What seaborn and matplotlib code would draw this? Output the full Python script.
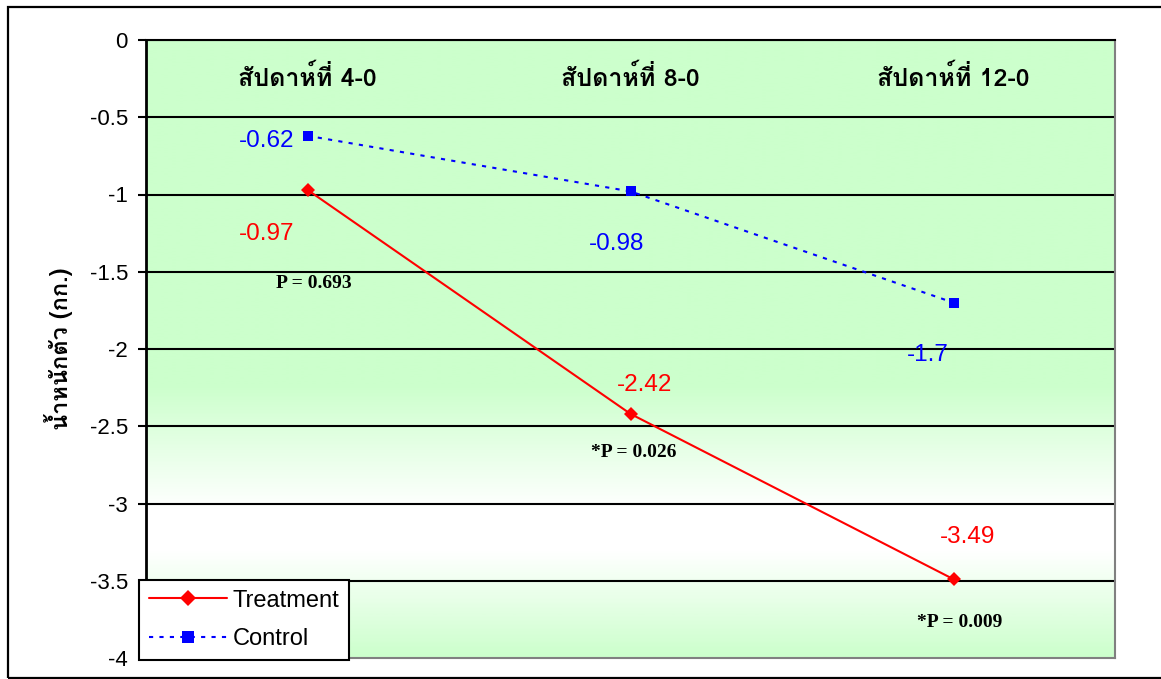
import numpy as np
import pandas as pd
import matplotlib
matplotlib.use("Agg")
import matplotlib.pyplot as plt
from matplotlib import font_manager
from matplotlib.ft2font import FT2Font
from matplotlib.colors import LinearSegmentedColormap
from matplotlib.patches import Rectangle
from matplotlib.lines import Line2D
import seaborn as sns

# ---------------- data ----------------
categories = ["สัปดาห์ที่ 4-0", "สัปดาห์ที่ 8-0", "สัปดาห์ที่ 12-0"]
treatment = [-0.97, -2.42, -3.49]
control = [-0.62, -0.98, -1.7]
p_labels = ["P = 0.693", "*P = 0.026", "*P = 0.009"]
y_ticks = [0, -0.5, -1, -1.5, -2, -2.5, -3, -3.5, -4]
y_label = "น้ำหนักตัว (กก.)"

# ---------------- fonts ----------------
def find_thai_font():
    names = {}
    for f in font_manager.fontManager.ttflist:
        try:
            cm = FT2Font(f.fname).get_charmap()
        except Exception:
            continue
        if 0x0E2A in cm and 0x0E49 in cm:
            w = f.weight if isinstance(f.weight, int) else (700 if "bold" in str(f.weight) else 400)
            names.setdefault(f.name, set()).add(w)
    if not names:
        return None
    pref = ["Tahoma", "Noto Sans Thai", "Noto Sans Thai UI", "Loma", "Garuda", "Sawasdee"]
    def key(n):
        has_bold = any(w >= 600 for w in names[n])
        return (0 if has_bold else 1, pref.index(n) if n in pref else 99)
    return sorted(names, key=key)[0]

thai = find_thai_font()
sns.set_theme(style="white")
base = "Liberation Sans"
fam = [thai, base, "DejaVu Sans"] if thai else [base, "DejaVu Sans"]
plt.rcParams["font.family"] = [base, "DejaVu Sans"]
plt.rcParams["text.color"] = "black"
plt.rcParams["axes.labelcolor"] = "black"
plt.rcParams["ytick.color"] = "black"

df = pd.DataFrame({
    "x": list(range(3)) * 2,
    "value": treatment + control,
    "group": ["Treatment"] * 3 + ["Control"] * 3,
})

fig = plt.figure(figsize=(11.61, 6.79), dpi=100)
ax = fig.add_axes([146 / 1161, 1 - 658 / 679, (1115 - 146) / 1161, (658 - 40) / 679])

# outer frame
fig.patches.append(Rectangle((8 / 1161, 1 / 679), 1.2, 671 / 679, transform=fig.transFigure,
                             fill=False, edgecolor="black", linewidth=1.6, zorder=0))

# gradient background
green = (0.80, 1.0, 0.80)
cmap = LinearSegmentedColormap.from_list("bg", [
    (0.0, green), (0.56, green), (0.76, (1, 1, 1)), (0.83, (1, 1, 1)), (1.0, green)])
grad = np.linspace(0, 1, 400).reshape(-1, 1)
ax.imshow(grad, cmap=cmap, aspect="auto", extent=(-0.5, 2.5, -4, 0), origin="upper",
          zorder=0, interpolation="bilinear")

ax.set_xlim(-0.5, 2.5)
ax.set_ylim(-4, 0)

for y in y_ticks[:-1]:
    ax.axhline(y, color="black", linewidth=1.5, zorder=1)

sns.lineplot(data=df[df.group == "Treatment"], x="x", y="value", ax=ax, color="#FF0000",
             linewidth=1.5, marker="D", markersize=7, markeredgewidth=0, zorder=3, legend=False)
sns.lineplot(data=df[df.group == "Control"], x="x", y="value", ax=ax, color="#0000FF",
             linewidth=1.5, linestyle=(0, (2, 3)), marker="s", markersize=7,
             markeredgewidth=0, zorder=3, legend=False)

ax.set_xticks([])
ax.set_yticks(y_ticks)
ax.set_yticklabels([f"{v:g}" for v in y_ticks], fontsize=16, color="black")
ax.tick_params(axis="y", length=6, width=1.5, color="black", direction="out", pad=7, left=True)
ax.set_xlabel("")
ax.set_ylabel(y_label, fontsize=17, fontweight="bold", family=fam, labelpad=12, color="black")

for s in ["top", "right", "bottom"]:
    ax.spines[s].set_visible(True)
    ax.spines[s].set_color("#808080")
    ax.spines[s].set_linewidth(1.5)
ax.spines["top"].set_color("black")
ax.spines["left"].set_color("black")
ax.spines["left"].set_linewidth(2)

# category labels
for i, c in enumerate(categories):
    ax.text(i, -0.246, c, ha="center", va="center", fontsize=18, fontweight="bold",
            family=fam, color="black")

# value labels
t_pos = [(-0.128, -1.256), (1.042, -2.233), (2.042, -3.217)]
c_pos = [(-0.125, -0.654), (0.958, -1.320), (1.921, -2.039)]
for v, (x, y) in zip(treatment, t_pos):
    ax.text(x, y, f"{v:g}", color="#FF0000", fontsize=17.5, ha="center", va="center")
for v, (x, y) in zip(control, c_pos):
    ax.text(x, y, f"{v:g}", color="#0000FF", fontsize=17.5, ha="center", va="center")

p_pos = [(0.020, -1.573), (1.011, -2.673), (2.020, -3.773)]
for t, (x, y) in zip(p_labels, p_pos):
    ax.text(x, y, t, ha="center", va="center", fontsize=14, fontweight="bold",
            family=["Liberation Serif", "DejaVu Serif"], color="black")

handles = [
    Line2D([], [], color="#FF0000", linewidth=1.5, marker="D", markersize=8, markeredgewidth=0),
    Line2D([], [], color="#0000FF", linewidth=1.5, linestyle=(0, (2, 3)), marker="s",
           markersize=8, markeredgewidth=0),
]
leg = fig.legend(handles, ["Treatment", "Control"], loc="lower left",
                 bbox_to_anchor=(139 / 1161, 1 - 660 / 679), bbox_transform=fig.transFigure,
                 borderaxespad=0, fontsize=17, frameon=True, fancybox=False,
                 edgecolor="black", framealpha=1, handlelength=3.3, borderpad=0.42,
                 labelspacing=0.7, handletextpad=0.25)
leg.get_frame().set_linewidth(1.5)
leg.set_zorder(10)
for t in leg.get_texts():
    t.set_color("black")

fig.savefig("out.png", dpi=100)
